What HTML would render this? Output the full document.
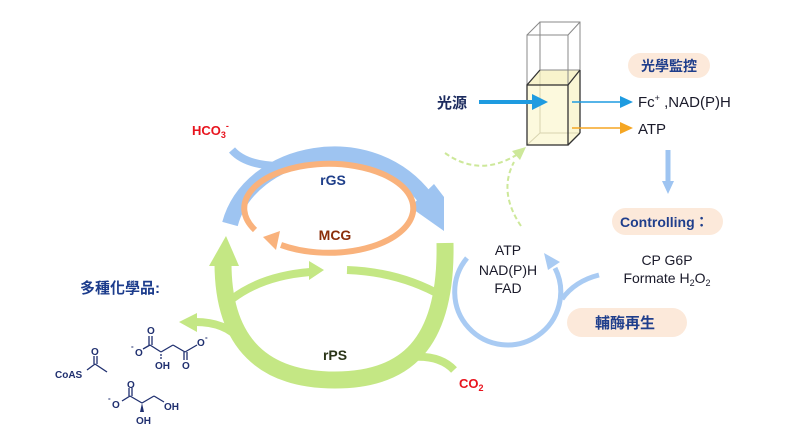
<!DOCTYPE html>
<html><head><meta charset="utf-8"><style>
html,body{margin:0;padding:0;background:#fff;}
svg{display:block;}
text{font-family:"Liberation Sans","Noto Sans CJK TC",sans-serif;}
</style></head><body>
<svg width="800" height="444" viewBox="0 0 800 444" xmlns="http://www.w3.org/2000/svg">
<rect width="800" height="444" fill="#fff"/>

<!-- rGS blue arc -->
<path d="M232,150 Q246,166 282,166" fill="none" stroke="#9EC4F1" stroke-width="8"/>
<path d="M230,224 C250,150 370,125 426,199" fill="none" stroke="#9EC4F1" stroke-width="16"/>
<polygon points="434,184 444,197 444,231 410,207" fill="#9EC4F1"/>

<!-- MCG orange loop -->
<path d="M255,230 A84.5 44.5 0 1 1 281,245" fill="none" stroke="#F9B27C" stroke-width="6"/>
<polygon points="263,237 280,231 276,250" fill="#F9B27C"/>

<!-- rPS green -->
<path d="M223,263 C223,345 265,380 335,380 C405,380 447,345 445,243" fill="none" stroke="#C4E784" stroke-width="17"/>
<polygon points="209,266 239,266 226,236" fill="#C4E784"/>
<path d="M232,299 Q262,276 310,272" fill="none" stroke="#C4E784" stroke-width="8"/>
<polygon points="324,270 309,261 309,280" fill="#C4E784"/>
<path d="M347,270 Q400,272 442,296" fill="none" stroke="#C4E784" stroke-width="8"/>
<path d="M240,340 Q226,322 195,322" fill="none" stroke="#C4E784" stroke-width="8"/>
<polygon points="179,322 197,313 197,332" fill="#C4E784"/>
<path d="M412,357 Q440,355 454,370" fill="none" stroke="#C4E784" stroke-width="8"/>

<!-- labels cycles -->
<text x="333" y="185" font-size="14" font-weight="bold" fill="#1F3F8A" text-anchor="middle">rGS</text>
<text x="335" y="240" font-size="14" font-weight="bold" fill="#8B2E0A" text-anchor="middle">MCG</text>
<text x="335" y="360" font-size="14" font-weight="bold" fill="#2B3518" text-anchor="middle">rPS</text>
<text x="192" y="135" font-size="13" font-weight="bold" fill="#E8141E">HCO<tspan font-size="9" dy="3">3</tspan><tspan font-size="9" dy="-9">-</tspan></text>
<text x="459" y="388" font-size="13" font-weight="bold" fill="#E8141E">CO<tspan font-size="9" dy="3">2</tspan></text>

<!-- dashed green arrows -->
<path d="M445,153 Q480,178 518,154" fill="none" stroke="#CDE89A" stroke-width="2" stroke-dasharray="5,3"/>
<path d="M521,226 Q498,192 514,162" fill="none" stroke="#CDE89A" stroke-width="2" stroke-dasharray="5,3"/>
<polygon points="526,147 512,151 520,160" fill="#CDE89A"/>

<!-- cuvette -->
<polygon points="527,85 540,70 580,70 568,85" fill="#F8F3CC"/>
<rect x="527" y="85" width="41" height="60" fill="#FCF9DD"/>
<polygon points="568,85 580,70 580,133 568,145" fill="#FAF6D5"/>
<g stroke="#D8D4B0" stroke-width="1" fill="none">
<line x1="540" y1="70" x2="540" y2="133"/>
<line x1="540" y1="133" x2="580" y2="133"/>
<line x1="527" y1="145" x2="540" y2="133"/>
</g>
<g stroke="#888" stroke-width="1" fill="none">
<rect x="540" y="22" width="40" height="48"/>
<rect x="527" y="35" width="41" height="50"/>
<line x1="527" y1="35" x2="540" y2="22"/>
<line x1="568" y1="35" x2="580" y2="22"/>
</g>
<g stroke="#333" stroke-width="1.3" fill="none">
<rect x="527" y="85" width="41" height="60"/>
<line x1="580" y1="70" x2="580" y2="133"/>
<line x1="568" y1="145" x2="580" y2="133"/>
<line x1="527" y1="85" x2="540" y2="70"/>
<line x1="568" y1="85" x2="580" y2="70"/>
</g>

<text x="437" y="108" font-size="15" font-weight="bold" fill="#1B2A5E">光源</text>
<line x1="479" y1="102" x2="534" y2="102" stroke="#1E9BE0" stroke-width="4"/>
<polygon points="548,102 532,94 532,110" fill="#1E9BE0"/>
<line x1="572" y1="102" x2="622" y2="102" stroke="#1E9BE0" stroke-width="1.6"/>
<polygon points="633,102 620,96 620,108" fill="#1E9BE0"/>
<line x1="572" y1="128" x2="622" y2="128" stroke="#F5A623" stroke-width="1.6"/>
<polygon points="633,128 620,122 620,134" fill="#F5A623"/>
<text x="638" y="107" font-size="15" fill="#1a1a2a">Fc<tspan font-size="9" dy="-6">+</tspan><tspan dy="6"> ,NAD(P)H</tspan></text>
<text x="638" y="134" font-size="15" fill="#1a1a2a">ATP</text>

<rect x="628" y="53" width="82" height="25" rx="12.5" fill="#FCE9DA"/>
<text x="669" y="71" font-size="14" font-weight="bold" fill="#1F3E8C" text-anchor="middle">光學監控</text>

<line x1="668" y1="150" x2="668" y2="183" stroke="#9EC4F1" stroke-width="5"/>
<polygon points="662,181 674,181 668,194" fill="#9EC4F1"/>

<rect x="612" y="208" width="111" height="27" rx="13.5" fill="#FCE9DA"/>
<text x="620" y="227" font-size="14" font-weight="bold" fill="#1F3E8C">Controlling：</text>
<text x="667" y="265" font-size="14" fill="#1a1a2a" text-anchor="middle">CP G6P</text>
<text x="667" y="283" font-size="14" fill="#1a1a2a" text-anchor="middle">Formate H<tspan font-size="9" dy="3">2</tspan><tspan dy="-3">O</tspan><tspan font-size="9" dy="3">2</tspan></text>

<rect x="567" y="308" width="120" height="29" rx="14.5" fill="#FCE9DA"/>
<text x="625" y="328" font-size="15" font-weight="bold" fill="#1F3E8C" text-anchor="middle">輔酶再生</text>

<!-- cofactor loop -->
<path d="M467,258 A53 53 0 1 0 555,268" fill="none" stroke="#A9CBF3" stroke-width="5"/>
<polygon points="544,253 560,262 548,270" fill="#A9CBF3"/>
<path d="M599,275 Q575,281 562,299" fill="none" stroke="#A9CBF3" stroke-width="5"/>
<text x="508" y="255" font-size="14" fill="#1a1a2a" text-anchor="middle">ATP</text>
<text x="508" y="275" font-size="14" fill="#1a1a2a" text-anchor="middle">NAD(P)H</text>
<text x="508" y="293" font-size="14" fill="#1a1a2a" text-anchor="middle">FAD</text>

<!-- chemicals -->
<text x="80" y="293" font-size="15" font-weight="bold" fill="#1C3C8C">多種化學品:</text>
<g stroke="#1F2F6F" stroke-width="1.3" fill="none">
<!-- malate -->
<line x1="149" y1="336" x2="149" y2="345"/><line x1="152" y1="336" x2="152" y2="345"/>
<line x1="150" y1="345" x2="143" y2="349"/>
<line x1="150" y1="345" x2="161" y2="352"/>
<line x1="161" y1="352" x2="173" y2="345"/>
<line x1="173" y1="345" x2="185" y2="352"/>
<line x1="185" y1="352" x2="197" y2="345"/>
<line x1="184" y1="352" x2="184" y2="360"/><line x1="187" y1="352" x2="187" y2="360"/>
<line x1="161" y1="354" x2="161" y2="356"/><line x1="161" y1="357" x2="161" y2="359"/>
<!-- acetyl -->
<line x1="87" y1="370" x2="95" y2="364"/>
<line x1="94" y1="364" x2="94" y2="356"/><line x1="97" y1="364" x2="97" y2="356"/>
<line x1="95" y1="364" x2="107" y2="372"/>
<!-- glycerate -->
<line x1="129" y1="388" x2="129" y2="396"/><line x1="132" y1="388" x2="132" y2="396"/>
<line x1="130" y1="396" x2="122" y2="401"/>
<line x1="130" y1="396" x2="142" y2="403"/>
<line x1="142" y1="403" x2="154" y2="396"/>
<line x1="154" y1="396" x2="164" y2="402"/>
</g>
<polygon points="142,403 140,412 144,412" fill="#1F2F6F"/>
<g font-size="10" font-weight="bold" fill="#1F2F6F">
<text x="147" y="334">O</text>
<text x="135" y="356">O</text><text x="131" y="349" font-size="8">-</text>
<text x="155" y="369">OH</text>
<text x="182" y="369">O</text>
<text x="197" y="346">O</text><text x="205" y="340" font-size="8">-</text>
<text x="55" y="378">CoAS</text>
<text x="91" y="355">O</text>
<text x="127" y="388">O</text>
<text x="112" y="408">O</text><text x="108" y="401" font-size="8">-</text>
<text x="164" y="410">OH</text>
<text x="136" y="424">OH</text>
</g>
</svg>
</body></html>
